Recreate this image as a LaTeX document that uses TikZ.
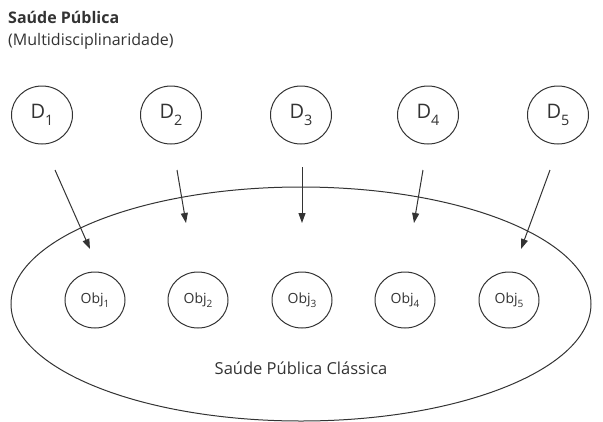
\documentclass[tikz,border=0pt]{standalone}
\usepackage{fontspec}
\setmainfont{Open Sans}
\usetikzlibrary{arrows.meta,shapes.geometric}
\definecolor{ink}{HTML}{333333}
\tikzset{
    dnode/.style={ellipse,draw=ink,line width=1pt,minimum width=61pt,minimum height=58pt,inner sep=0pt,font=\fontsize{20}{24}\selectfont,text=ink},
    objnode/.style={ellipse,draw=ink,line width=1pt,minimum width=60pt,minimum height=56pt,inner sep=0pt,font=\fontsize{14}{16}\selectfont,text=ink},
    seta/.style={draw=ink,line width=1pt,-{Triangle[length=10pt,width=7pt]}}
}
\newcommand{\sbx}[1]{\raisebox{-0.6ex}{\fontsize{0.72em}{1em}\selectfont #1}}
\begin{document}
\begin{tikzpicture}[x=1pt,y=-1pt]
    \useasboundingbox (0,0) rectangle (603,421);

    \node [anchor=base west,inner sep=0pt,font=\fontsize{16}{18}\selectfont\bfseries,text=ink] (titulo) at (8,23) {Saúde Pública};
    \node [anchor=base west,inner sep=0pt,font=\fontsize{16}{18}\selectfont,text=ink] (subtitulo) at (8,45) {(Multidisciplinaridade)};

    \draw [ink,line width=1pt] (301,304) ellipse [x radius=290,y radius=117];
    \node [font=\fontsize{16.5}{18}\selectfont,text=ink] (classica) at (301,368) {Saúde Pública Clássica};

    \node [dnode] (D1) at (42,115) {D\sbx{1}};
    \node [dnode] (D2) at (171,115) {D\sbx{2}};
    \node [dnode] (D3) at (301,115) {D\sbx{3}};
    \node [dnode] (D4) at (428,115) {D\sbx{4}};
    \node [dnode] (D5) at (558,115) {D\sbx{5}};

    \node [objnode] (O1) at (95,300) {Obj\sbx{1}};
    \node [objnode] (O2) at (198,300) {Obj\sbx{2}};
    \node [objnode] (O3) at (302,300) {Obj\sbx{3}};
    \node [objnode] (O4) at (405,300) {Obj\sbx{4}};
    \node [objnode] (O5) at (509,300) {Obj\sbx{5}};

    \coordinate (a1) at (55,170);
    \coordinate (a2) at (177,170);
    \coordinate (a3) at (302,167);
    \coordinate (a4) at (423,170);
    \coordinate (a5) at (550,170);
    \coordinate (b1) at (90,249);
    \coordinate (b2) at (186,223);
    \coordinate (b3) at (302,223);
    \coordinate (b4) at (414,223);
    \coordinate (b5) at (521,249);

    \draw [seta] (a1) -- (b1);
    \draw [seta] (a2) -- (b2);
    \draw [seta] (a3) -- (b3);
    \draw [seta] (a4) -- (b4);
    \draw [seta] (a5) -- (b5);

\end{tikzpicture}
\end{document}
